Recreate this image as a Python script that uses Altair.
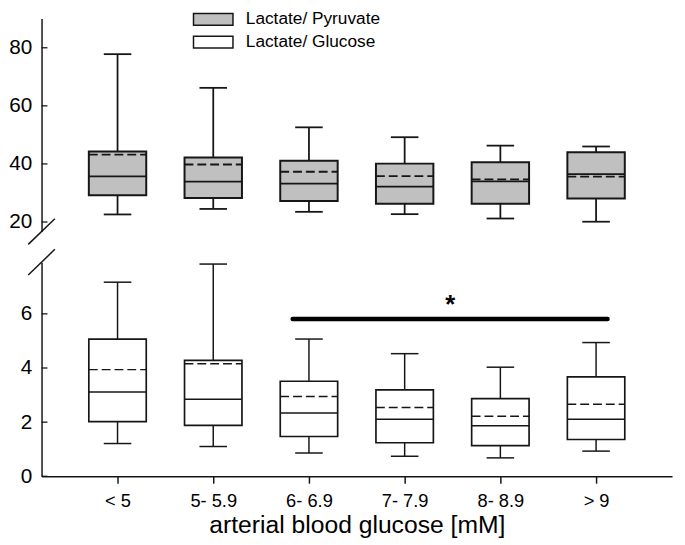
import altair as alt
import pandas as pd

# ---------------- data ----------------
groups = ["< 5", "5- 5.9", "6- 6.9", "7- 7.9", "8- 8.9", "> 9"]
series = ["Lactate/ Pyruvate", "Lactate/ Glucose"]

# Lactate / Pyruvate (top panel)
lp_wlo = [22.6, 24.5, 23.5, 22.7, 21.2, 20.1]
lp_q1 = [29.2, 28.3, 27.2, 26.3, 26.3, 28.1]
lp_med = [35.7, 33.9, 33.2, 32.2, 34.0, 36.5]
lp_mean = [43.2, 39.8, 37.3, 35.8, 34.7, 35.6]
lp_q3 = [44.3, 42.2, 41.1, 40.1, 40.6, 44.0]
lp_whi = [77.8, 66.2, 52.6, 49.2, 46.3, 46.0]

# Lactate / Glucose (bottom panel)
lg_wlo = [1.21, 1.10, 0.86, 0.74, 0.68, 0.93]
lg_q1 = [2.02, 1.88, 1.47, 1.24, 1.13, 1.36]
lg_med = [3.11, 2.85, 2.34, 2.11, 1.87, 2.11]
lg_mean = [3.94, 4.16, 2.95, 2.54, 2.22, 2.66]
lg_q3 = [5.07, 4.28, 3.51, 3.19, 2.87, 3.67]
lg_whi = [7.17, 7.84, 5.07, 4.53, 4.03, 4.94]

top_ticks = [20, 40, 60, 80]
bottom_ticks = [0, 2, 4, 6]

# significance bar (from group "6- 6.9" to "> 9") and its star
sig_from, sig_to, sig_level = 1.83, 5.12, 5.81
sig_text = "*"

# ---------------- styling ----------------
FONT = "Liberation Sans"
INK = "#161616"
GREY = "#c0c0c0"
W = 639
H_TOP = 216
H_BOT = 217
X_DOMAIN = [-0.794, 5.794]
BOX_HALF = 0.30
CAP_HALF = 0.144

xscale = alt.Scale(domain=X_DOMAIN, nice=False, zero=False)
label_expr = "[" + ",".join("'" + g + "'" for g in groups) + "][datum.value]"


def make_panel(stats, ydomain, yticks, height, fill, show_x, lw):
    wlo, q1, med, mean, q3, whi = stats
    df = pd.DataFrame({
        "idx": list(range(len(groups))), "group": groups,
        "wlo": wlo, "q1": q1, "med": med, "mean": mean, "q3": q3, "whi": whi,
    })
    if show_x:
        xaxis = alt.Axis(values=list(range(len(groups))), labelExpr=label_expr,
                         title="arterial blood glucose [mM]", grid=False,
                         tickSize=7, tickWidth=1.5, tickColor=INK,
                         domainColor=INK, domainWidth=1.5,
                         labelFontSize=18.5, labelPadding=9, labelColor="black",
                         labelFont=FONT, titleFont=FONT, titleFontSize=25,
                         titleFontWeight="normal", titleColor="black", titlePadding=2)
    else:
        xaxis = None
    yscale = alt.Scale(domain=ydomain, nice=False, zero=False)
    yaxis = alt.Axis(values=yticks, ticks=False, tickSize=0, grid=False,
                     labelFontSize=21, labelPadding=10, labelColor="black",
                     labelFont=FONT, title=None, domainColor=INK, domainWidth=1.5)

    def X(f):
        return alt.X(f + ":Q", scale=xscale, axis=xaxis)

    def Y(f):
        return alt.Y(f + ":Q", scale=yscale, axis=yaxis)

    base = alt.Chart(df).transform_calculate(
        lo=f"datum.idx - {BOX_HALF}", hi=f"datum.idx + {BOX_HALF}",
        clo=f"datum.idx - {CAP_HALF}", chi=f"datum.idx + {CAP_HALF}")

    whisk_hi = base.mark_rule(color=INK, strokeWidth=lw).encode(x=X("idx"), y=Y("q3"), y2="whi:Q")
    whisk_lo = base.mark_rule(color=INK, strokeWidth=lw).encode(x=X("idx"), y=Y("wlo"), y2="q1:Q")
    cap_hi = base.mark_rule(color=INK, strokeWidth=lw).encode(x=X("clo"), x2="chi:Q", y=Y("whi"))
    cap_lo = base.mark_rule(color=INK, strokeWidth=lw).encode(x=X("clo"), x2="chi:Q", y=Y("wlo"))
    box = base.mark_rect(fill=fill, stroke=INK, strokeWidth=lw + 0.2).encode(
        x=X("lo"), x2="hi:Q", y=Y("q1"), y2="q3:Q")
    median = base.mark_rule(color=INK, strokeWidth=lw).encode(x=X("lo"), x2="hi:Q", y=Y("med"))
    meanl = base.mark_rule(color=INK, strokeWidth=lw, strokeDash=[9, 4]).encode(
        x=X("lo"), x2="hi:Q", y=Y("mean"))

    tick_df = pd.DataFrame({"v": yticks})
    inward = alt.Chart(tick_df).mark_rule(color=INK, strokeWidth=1.3).encode(
        x=alt.value(0), x2=alt.value(6), y=Y("v"))

    one = pd.DataFrame({"k": [0]})
    if show_x:
        slash = alt.Chart(one).mark_rule(color=INK, strokeWidth=1.5).encode(
            x=alt.value(-13.5), x2=alt.value(13.5), y=alt.value(13), y2=alt.value(-13))
    else:
        slash = alt.Chart(one).mark_rule(color=INK, strokeWidth=1.5).encode(
            x=alt.value(-13.5), x2=alt.value(13.5), y=alt.value(height + 13), y2=alt.value(height - 13))

    layers = [whisk_hi, whisk_lo, cap_hi, cap_lo, box, median, meanl, inward, slash]
    return layers, X, Y


top_layers, Xt, Yt = make_panel((lp_wlo, lp_q1, lp_med, lp_mean, lp_q3, lp_whi),
                                [16.7, 90.1], top_ticks, H_TOP, GREY, False, 1.8)
bot_layers, Xb, Yb = make_panel((lg_wlo, lg_q1, lg_med, lg_mean, lg_q3, lg_whi),
                                [0, 7.91], bottom_ticks, H_BOT, "white", True, 1.5)

# manual legend in the top panel
legend_fills = [GREY, "white"]
legend_rows_y = [1, 24]
for name, fcol, yy in zip(series, legend_fills, legend_rows_y):
    ldf = pd.DataFrame({"label": [name]})
    top_layers.append(alt.Chart(ldf).mark_rect(fill=fcol, stroke=INK, strokeWidth=1.5).encode(
        x=alt.value(154), x2=alt.value(194), y=alt.value(yy - 6), y2=alt.value(yy + 6)))
    top_layers.append(alt.Chart(ldf).mark_text(align="left", baseline="middle", font=FONT,
                                               fontSize=17.5, color="black").encode(
        x=alt.value(207), y=alt.value(yy), text="label:N"))

# significance bar + star in the bottom panel
sig_df = pd.DataFrame({"a": [sig_from], "b": [sig_to], "y": [sig_level],
                       "mid": [(sig_from + sig_to) / 2], "t": [sig_text], "ty": [6.02]})
bot_layers.append(alt.Chart(sig_df).mark_rule(color="black", strokeWidth=4.5, strokeCap="round").encode(
    x=Xb("a"), x2="b:Q", y=Yb("y")))
bot_layers.append(alt.Chart(sig_df).mark_text(font=FONT, fontSize=26, fontWeight="bold",
                                              baseline="alphabetic", align="center",
                                              color="black").encode(
    x=Xb("mid"), y=Yb("ty"), text="t:N"))

top = alt.layer(*top_layers).properties(width=W, height=H_TOP)
bottom = alt.layer(*bot_layers).properties(width=W, height=H_BOT)

chart = alt.vconcat(top, bottom, spacing=3).properties(
    padding={"left": 0, "top": -1, "right": 5, "bottom": 0}
).configure_view(stroke=None)

chart.save("out.html", embed_options={"renderer": "svg", "actions": False})
